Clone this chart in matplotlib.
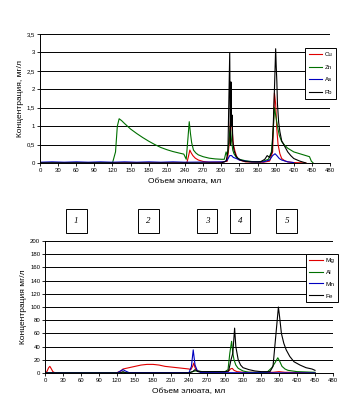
import matplotlib.pyplot as plt
from matplotlib.ticker import FuncFormatter

plt.rcParams['font.family'] = ['Liberation Sans', 'DejaVu Sans']

# Data
# ----------------------------------------------------------------------------

# top chart: Cu, Zn, As, Pb (mg/l)
zn_x = [0, 120, 125, 128, 131, 135, 140, 150, 160, 170, 180, 190, 200, 210,
        220, 230, 238, 242, 245, 247, 249, 251, 254, 258, 262, 270, 280, 290,
        300, 305, 308, 310, 312, 315, 317, 319, 321, 325, 330, 340, 350, 360,
        370, 378, 383, 386, 388, 390, 393, 396, 400, 405, 410, 420, 430, 440,
        446, 449, 452]
zn_y = [0, 0, 0.3, 1.0, 1.2, 1.15, 1.07, 0.92, 0.8, 0.69, 0.59, 0.5, 0.42,
        0.36, 0.31, 0.27, 0.24, 0.1, 0.7, 1.12, 0.8, 0.55, 0.35, 0.27, 0.22,
        0.17, 0.13, 0.11, 0.1, 0.1, 0.3, 0.2, 0.5, 1.0, 0.6, 0.35, 0.25, 0.15,
        0.1, 0.06, 0.04, 0.03, 0.05, 0.1, 0.3, 0.9, 1.5, 1.3, 1.0, 0.75, 0.58,
        0.48, 0.4, 0.3, 0.25, 0.2, 0.17, 0.05, 0]

cu_x = [0, 243, 246, 248, 250, 253, 257, 262, 270, 280, 300, 310, 313, 316,
        318, 320, 323, 326, 330, 340, 370, 380, 385, 388, 390, 392, 394, 397,
        400, 405, 410, 420, 440]
cu_y = [0, 0, 0.2, 0.35, 0.28, 0.2, 0.13, 0.08, 0.04, 0.02, 0.02, 0.05, 0.5,
        1.35, 0.9, 0.5, 0.3, 0.15, 0.08, 0.03, 0.02, 0.05, 0.3, 1.9, 1.6, 0.9,
        0.5, 0.25, 0.12, 0.06, 0.03, 0.01, 0]

as_x = [0, 20, 40, 60, 80, 100, 120, 140, 160, 180, 200, 220, 240, 305, 310,
        314, 317, 320, 325, 330, 340, 350, 370, 380, 385, 389, 392, 396, 400,
        410, 420]
as_y = [0.02, 0.03, 0.02, 0.03, 0.02, 0.03, 0.02, 0.03, 0.02, 0.03, 0.02,
        0.03, 0.02, 0.03, 0.08, 0.2, 0.2, 0.15, 0.12, 0.08, 0.05, 0.03, 0.03,
        0.08, 0.2, 0.25, 0.2, 0.12, 0.08, 0.03, 0.01]

pb_x = [0, 300, 308, 311, 314, 315, 316, 317, 318, 319, 321, 324, 328, 333,
        340, 350, 365, 372, 376, 380, 384, 386, 388, 390, 391, 392, 393, 395,
        397, 400, 405, 410, 415, 420, 430, 440]
pb_y = [0, 0, 0.05, 0.3, 3.0, 0.5, 2.2, 1.0, 1.3, 0.6, 0.35, 0.2, 0.12, 0.07,
        0.04, 0.03, 0.03, 0.1, 0.2, 0.15, 0.3, 1.0, 2.0, 3.1, 2.6, 2.2, 1.6,
        1.1, 0.85, 0.6, 0.45, 0.3, 0.2, 0.12, 0.05, 0]

# bottom chart: Mg, Al, Mn, Fe (mg/l)
mg_x = [0, 3, 6, 8, 10, 13, 16, 60, 120, 126, 130, 140, 150, 160, 170, 180,
        190, 200, 210, 220, 230, 240, 243, 246, 248, 250, 253, 258, 270, 290,
        305, 309, 312, 315, 320, 330, 380, 390, 400, 450]
mg_y = [0, 2, 8, 10, 7, 2, 0.5, 0.5, 0.5, 3, 6, 8, 10, 12, 13, 13, 12, 10, 9,
        8, 7, 6, 5, 10, 15, 8, 4, 2, 1.5, 1.5, 2, 6, 7, 4, 2, 1, 1, 2, 1, 0.5]

al_x = [0, 240, 250, 256, 262, 300, 305, 308, 311, 313, 315, 318, 322, 330,
        340, 370, 378, 383, 388, 391, 395, 400, 405, 420, 450]
al_y = [0.5, 0.5, 3, 3, 2, 2, 5, 30, 48, 30, 20, 12, 7, 3, 1, 1, 8, 15, 23,
        18, 10, 6, 4, 2, 1]

mn_x = [0, 120, 126, 130, 134, 140, 240, 244, 247, 250, 254, 260, 450]
mn_y = [0, 0, 3, 5, 3, 0.5, 0.5, 10, 35, 12, 3, 0.5, 0]

fe_x = [0, 125, 130, 135, 240, 246, 250, 255, 300, 306, 310, 313, 316, 318,
        322, 326, 330, 340, 350, 360, 375, 380, 385, 389, 391, 394, 398, 402,
        408, 415, 425, 435, 445, 450]
fe_y = [0, 0, 2, 0, 0, 2, 5, 2, 2, 3, 20, 30, 68, 40, 20, 12, 8, 5, 3, 2, 2,
        10, 60, 100, 85, 60, 45, 35, 25, 17, 12, 8, 6, 4]

box_labels = ['1', '2', '3', '4', '5']
box_pos = [52, 172, 270, 325, 403]

# Plot
# ----------------------------------------------------------------------------

fig = plt.figure(figsize=(3.52, 4.2), dpi=100)


def comma(v, pos):
    return f'{v:g}'.replace('.', ',')


def config_ax(ax, ymax, ystep, ylabel):
    ax.set_xlim(0, 480)
    ax.set_ylim(0, ymax)
    ax.set_xticks(range(0, 481, 30))
    ax.set_yticks([i * ystep for i in range(int(round(ymax / ystep)) + 1)])
    ax.yaxis.set_major_formatter(FuncFormatter(comma))
    ax.tick_params(labelsize=4.3, length=2, width=0.6, pad=1.5)
    ax.grid(axis='y', color='k', linewidth=0.7)
    ax.set_axisbelow(True)
    for s in ('top', 'right'):
        ax.spines[s].set_visible(False)
    for s in ('left', 'bottom'):
        ax.spines[s].set_linewidth(0.7)
    ax.set_xlabel('Объем элюата, мл', fontsize=6, labelpad=4)
    ax.set_ylabel(ylabel, fontsize=6, labelpad=2)


lw = 0.8

ax1 = fig.add_axes([0.1136, 0.612, 0.824, 0.307])
ax1.plot(cu_x, cu_y, color='#e00000', lw=lw, label='Cu')
ax1.plot(zn_x, zn_y, color='#007000', lw=lw, label='Zn')
ax1.plot(as_x, as_y, color='#0000c0', lw=lw, label='As')
ax1.plot(pb_x, pb_y, color='k', lw=lw, label='Pb')
config_ax(ax1, 3.5, 0.5, 'Концентрация, мг/л')
ax1.legend(loc='upper left', bbox_to_anchor=(0.914, 0.89), fontsize=4.4,
           frameon=True, fancybox=False, edgecolor='k', framealpha=1,
           handlelength=2.2, handletextpad=0.4, borderpad=0.6,
           labelspacing=1.2, borderaxespad=0).get_frame().set_linewidth(0.7)

ax2 = fig.add_axes([0.128, 0.112, 0.818, 0.314])
ax2.plot(mg_x, mg_y, color='#e00000', lw=lw, label='Mg')
ax2.plot(al_x, al_y, color='#007000', lw=lw, label='Al')
ax2.plot(mn_x, mn_y, color='#0000c0', lw=lw, label='Mn')
ax2.plot(fe_x, fe_y, color='k', lw=lw, label='Fe')
config_ax(ax2, 200, 20, 'Концентрация мг/л')
ax2.legend(loc='upper left', bbox_to_anchor=(0.906, 0.9), fontsize=4.6,
           frameon=True, fancybox=False, edgecolor='k', framealpha=1,
           handlelength=2.2, handletextpad=0.4, borderpad=0.5,
           labelspacing=1.0, borderaxespad=0).get_frame().set_linewidth(0.7)

for lab, xp in zip(box_labels, box_pos):
    ax2.text(xp, 1.15, lab, transform=ax2.get_xaxis_transform(),
             ha='center', va='center', fontsize=6.5, style='italic',
             family='Liberation Serif',
             bbox=dict(boxstyle='square,pad=0.9', fc='white', ec='k',
                       lw=0.7))

fig.savefig('out.png', dpi=100)
